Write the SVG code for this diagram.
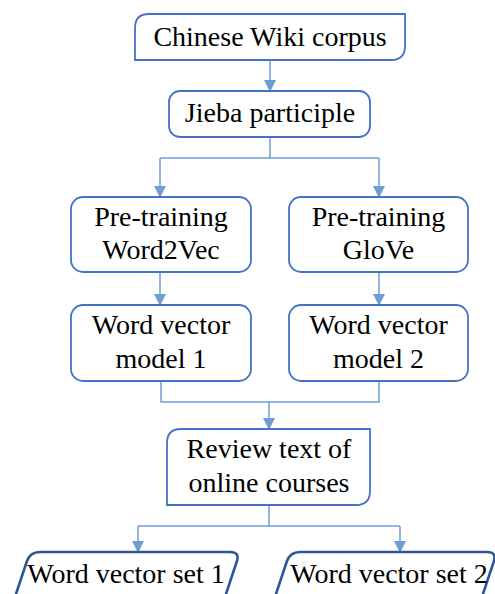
<svg xmlns="http://www.w3.org/2000/svg" width="495" height="594" viewBox="0 0 495 594">
<style>
.box{fill:#fff;stroke:#4472C4;stroke-width:1.8}
.out{fill:#fff;stroke:#2F5597;stroke-width:2.6}
text{font-family:'Liberation Serif','Times New Roman','DejaVu Serif',serif;font-size:28px;fill:#000;text-anchor:middle}
.c{fill:none;stroke:#6F9DD3;stroke-width:1.5}
</style>
<defs>
<marker id="ah" markerWidth="12" markerHeight="12" viewBox="0 0 12 12" refX="11" refY="6" orient="auto" markerUnits="userSpaceOnUse">
<path d="M0,0 L12,6 L0,12 Z" fill="#6F9DD3"/>
</marker>
</defs>
<rect width="495" height="594" fill="#fff"/>
<g id="connectors">
<line class="c" x1="270" y1="60" x2="270" y2="91" marker-end="url(#ah)"/>
<polyline class="c" points="270,137 270,158"/>
<polyline class="c" points="160,158 379,158"/>
<line class="c" x1="160" y1="158" x2="160" y2="197" marker-end="url(#ah)"/>
<line class="c" x1="379" y1="158" x2="379" y2="197" marker-end="url(#ah)"/>
<line class="c" x1="160" y1="272" x2="160" y2="305" marker-end="url(#ah)"/>
<line class="c" x1="379" y1="272" x2="379" y2="305" marker-end="url(#ah)"/>
<polyline class="c" points="161,381 161,402 379,402 379,381"/>
<line class="c" x1="269" y1="402" x2="269" y2="429" marker-end="url(#ah)"/>
<line class="c" x1="269" y1="505" x2="269" y2="526"/>
<polyline class="c" points="138,526 400,526"/>
<line class="c" x1="138" y1="526" x2="138" y2="552" marker-end="url(#ah)"/>
<line class="c" x1="400" y1="526" x2="400" y2="552" marker-end="url(#ah)"/>
</g>
<g id="corpus">
<path class="box" d="M135,60 L135,28 Q135,14 149,14 L405,14 L405,46 Q405,60 391,60 Z"/>
<text x="270" y="46" font-family="Liberation Serif, serif">Chinese Wiki corpus</text>
</g>
<g id="jieba">
<rect class="box" x="169" y="91" width="201" height="46" rx="11"/>
<text x="270" y="122">Jieba participle</text>
</g>
<g id="w2v">
<rect class="box" x="71" y="197" width="180" height="75" rx="12"/>
<text x="161" y="226">Pre-training</text>
<text x="161" y="259">Word2Vec</text>
</g>
<g id="glove">
<rect class="box" x="289" y="197" width="179" height="75" rx="12"/>
<text x="378.5" y="226">Pre-training</text>
<text x="378.5" y="259">GloVe</text>
</g>
<g id="model1">
<rect class="box" x="71" y="305" width="180" height="76" rx="12"/>
<text x="161" y="334">Word vector</text>
<text x="161" y="368">model 1</text>
</g>
<g id="model2">
<rect class="box" x="289" y="305" width="179" height="76" rx="12"/>
<text x="378.5" y="334">Word vector</text>
<text x="378.5" y="368">model 2</text>
</g>
<g id="review">
<path class="box" d="M167,505 L167,443 Q167,429 181,429 L370,429 L370,491 Q370,505 356,505 Z"/>
<text x="269" y="458">Review text of</text>
<text x="269" y="492">online courses</text>
</g>
<g id="set1">
<path class="out" d="M26.8,561.5 Q30,552 40,552 L230,552 Q240,552 236.8,561.5 L220,612 L10,612 Z"/>
<text x="126" y="583">Word vector set 1</text>
</g>
<g id="set2">
<path class="out" d="M286.8,561.5 Q290,552 300,552 L487,552 Q497,552 493.8,561.5 L477,612 L270,612 Z"/>
<text x="389" y="583">Word vector set 2</text>
</g>
</svg>
